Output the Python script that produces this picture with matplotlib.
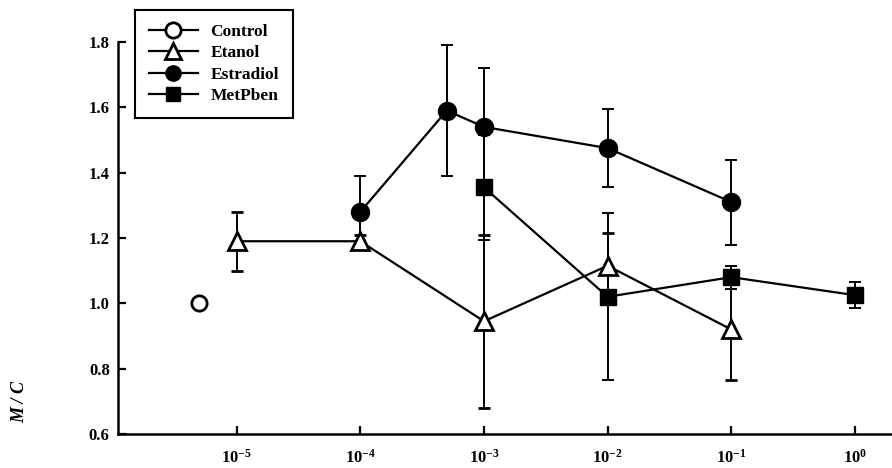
import matplotlib
matplotlib.use('Agg')
import matplotlib.pyplot as plt
from matplotlib.lines import Line2D
from matplotlib.ticker import FixedLocator, FixedFormatter

plt.rcParams['font.family'] = ['Liberation Serif', 'DejaVu Serif']
plt.rcParams['font.weight'] = 'bold'
plt.rcParams['mathtext.fontset'] = 'custom'
plt.rcParams['mathtext.rm'] = 'Liberation Serif:bold'
plt.rcParams['mathtext.it'] = 'Liberation Serif:bold'
plt.rcParams['mathtext.bf'] = 'Liberation Serif:bold'

# values
control_x = [5e-6]
control_y = [1.0]

etanol_x = [1e-5, 1e-4, 1e-3, 1e-2, 1e-1]
etanol_y = [1.19, 1.19, 0.945, 1.115, 0.92]
etanol_err = [0.09, 0.02, 0.265, 0.10, 0.155]

estradiol_x = [1e-4, 5e-4, 1e-3, 1e-2, 1e-1]
estradiol_y = [1.28, 1.59, 1.54, 1.475, 1.31]
estradiol_err = [0.11, 0.20, 0.18, 0.12, 0.13]

metpben_x = [1e-3, 1e-2, 1e-1, 1e0]
metpben_y = [1.355, 1.02, 1.08, 1.025]
metpben_err = [0.16, 0.255, 0.035, 0.04]

xticks = [1e-5, 1e-4, 1e-3, 1e-2, 1e-1, 1e0]
xticklabels = ['10$^{-5}$', '10$^{-4}$', '10$^{-3}$', '10$^{-2}$', '10$^{-1}$', '10$^{0}$']
yticks = [0.6, 0.8, 1.0, 1.2, 1.4, 1.6, 1.8]

fig = plt.figure(figsize=(8.92, 4.68), dpi=100)
ax = fig.add_axes([118 / 892, 0.0727, 1 - 118 / 892, 0.8376])

eb = dict(color='black', lw=1.6, elinewidth=1.4, capsize=4.5, capthick=1.4)

ax.plot(control_x, control_y, 'o', ms=11, mfc='white', mec='black', mew=2)
ax.errorbar(etanol_x, etanol_y, yerr=etanol_err, marker='^', ms=13, mfc='white',
            mec='black', mew=2, **eb)
ax.errorbar(estradiol_x, estradiol_y, yerr=estradiol_err, marker='o', ms=13,
            mfc='black', mec='black', **eb)
ax.errorbar(metpben_x, metpben_y, yerr=metpben_err, marker='s', ms=11,
            mfc='black', mec='black', **eb)

ax.set_xscale('log')
ax.set_xlim(10 ** -5.96, 10 ** 0.30)
ax.set_ylim(0.6, 1.8)
ax.xaxis.set_major_locator(FixedLocator(xticks))
ax.xaxis.set_major_formatter(FixedFormatter(xticklabels))
ax.xaxis.set_minor_locator(FixedLocator([]))
ax.set_yticks(yticks)
ax.set_yticklabels(['%.1f' % v for v in yticks])

for s in ['top', 'right']:
    ax.spines[s].set_visible(False)
for s in ['left', 'bottom']:
    ax.spines[s].set_linewidth(1.8)
ax.tick_params(axis='both', direction='in', length=6, width=1.6, labelsize=12)
ax.tick_params(axis='x', pad=11)
ax.tick_params(axis='y', pad=6)

fig.text(0.022, 0.14, 'M / C', rotation=90, fontsize=13, fontweight='bold',
         fontstyle='italic', ha='center', va='center')

# legend shows line + marker only, no error caps
handles = [
    Line2D([], [], color='black', lw=1.6, marker='o', ms=11, mfc='white', mew=2),
    Line2D([], [], color='black', lw=1.6, marker='^', ms=11, mfc='white', mew=2),
    Line2D([], [], color='black', lw=1.6, marker='o', ms=11, mfc='black'),
    Line2D([], [], color='black', lw=1.6, marker='s', ms=10, mfc='black'),
]
labels = ['Control', 'Etanol', 'Estradiol', 'MetPben']
leg = ax.legend(handles, labels, loc='upper left',
                bbox_to_anchor=(135 / 892, 1 - 10 / 468),
                bbox_transform=fig.transFigure, fancybox=False,
                edgecolor='black', framealpha=1, fontsize=12.5,
                handlelength=2.8, borderpad=0.8, labelspacing=0.3,
                handletextpad=0.75, borderaxespad=0)
leg.get_frame().set_linewidth(1.5)

fig.savefig('out.png', dpi=100)
